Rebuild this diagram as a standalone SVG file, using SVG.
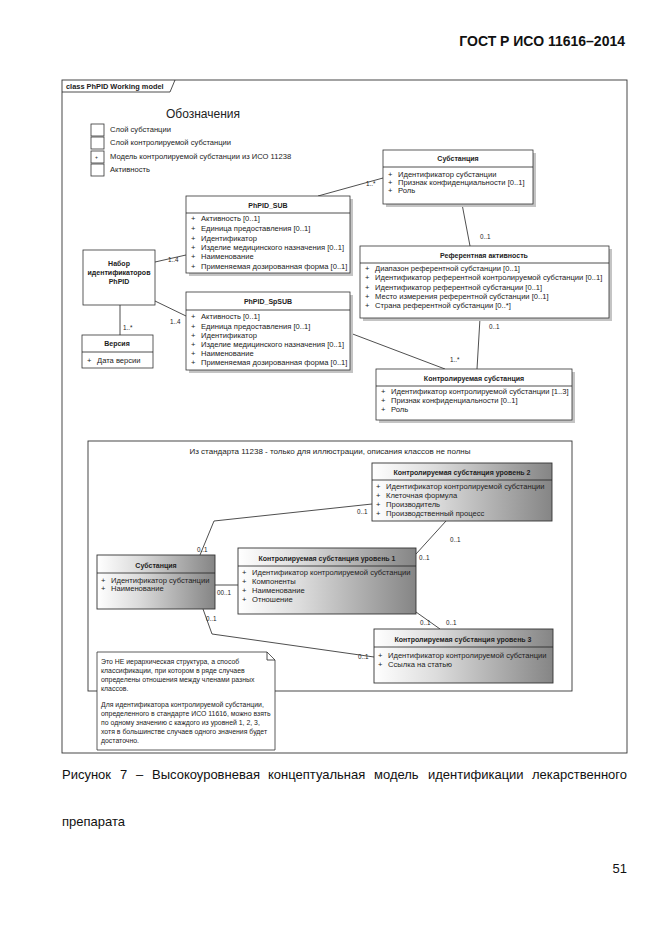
<svg xmlns="http://www.w3.org/2000/svg" width="661" height="935" viewBox="0 0 661 935">
<defs>
<style>
.t{font-family:"Liberation Sans",Arial,sans-serif;font-size:7.6px;fill:#222}
.s{font-size:6.3px}
.n{font-size:6.9px}
.b{font-weight:bold;font-size:7px}
.m{text-anchor:middle}
.box{fill:#fff;stroke:#333;stroke-width:0.8}
.gbox{fill:url(#gr);stroke:#333;stroke-width:0.9}
.sh{fill:#c4c4c4}
.ln{stroke:#222;stroke-width:0.8;fill:none}
.cap{font-family:"Liberation Sans",Arial,sans-serif;font-size:13px;fill:#111}
</style>
<linearGradient id="gr" x1="0" y1="0" x2="1" y2="0">
<stop offset="0" stop-color="#ffffff"/>
<stop offset="0.35" stop-color="#dcdcdc"/>
<stop offset="1" stop-color="#858585"/>
</linearGradient>
</defs>
<rect width="661" height="935" fill="#fff"/>
<text x="625" y="46" text-anchor="end" style="font-family:'Liberation Sans',Arial,sans-serif;font-size:14px;font-weight:bold;fill:#111">ГОСТ Р ИСО 11616–2014</text>

<g id="frame">
<rect x="62" y="80" width="565" height="673" fill="none" stroke="#333" stroke-width="0.9"/>
<path d="M62 92 H170 L175 80" class="ln"/>
<text x="66" y="89" class="t b" style="font-size:7.4px">class PhPID Working model</text>
</g>

<g id="legend">
<text x="203" y="118" class="t m" style="font-size:12px">Обозначения</text>
<rect x="91" y="124" width="13" height="12" class="box"/>
<text x="110" y="132" class="t">Слой субстанции</text>
<rect x="91" y="137" width="13" height="12" class="box"/>
<text x="110" y="145" class="t">Слой контролируемой субстанции</text>
<rect x="91" y="151" width="13" height="12" class="box"/>
<text x="95" y="159" class="t" style="font-size:5px">+</text>
<text x="110" y="159" class="t">Модель контролируемой субстанции из ИСО 11238</text>
<rect x="91" y="164" width="13" height="12" class="box"/>
<text x="110" y="172" class="t">Активность</text>
</g>

<g id="connectors">
<path d="M318 196 L383 178" class="ln"/>
<text x="366" y="186" class="t s">1..*</text>
<path d="M462 204 L470 246" class="ln"/>
<text x="480" y="239" class="t s">0..1</text>
<path d="M155 262 L186 255" class="ln"/>
<text x="168" y="262" class="t s">1..4</text>
<path d="M155 301 L186 316" class="ln"/>
<text x="170" y="324" class="t s">1..4</text>
<path d="M120 305 V335" class="ln"/>
<text x="123" y="330" class="t s">1..*</text>
<path d="M350 333 L445 369" class="ln"/>
<text x="450" y="362" class="t s">1..*</text>
<path d="M480 318 L477 369" class="ln"/>
<text x="489" y="329" class="t s">0..1</text>

<path d="M200 555 L214 521 L372 504" class="ln"/>
<text x="197" y="552" class="t s">0..1</text>
<text x="357" y="514" class="t s">0..1</text>
<path d="M215 585 H238" class="ln"/>
<text x="217" y="595" class="t s">00..1</text>
<path d="M416 554 L446 521" class="ln"/>
<text x="419" y="560" class="t s">0..1</text>
<text x="450" y="542" class="t s">0..1</text>
<path d="M416 612 L440 629" class="ln"/>
<text x="420" y="625" class="t s">0..1</text>
<text x="446" y="625" class="t s">0..1</text>
<path d="M203 609 L212 634 L374 657" class="ln"/>
<text x="206" y="621" class="t s">0..1</text>
<text x="358" y="659" class="t s">0..1</text>
</g>

<g id="substance">
<rect x="386" y="153" width="150" height="54" class="sh"/>
<rect x="383" y="150" width="150" height="54" class="box"/>
<line x1="383" y1="167" x2="533" y2="167" class="ln"/>
<text x="458" y="161" class="t b m">Субстанция</text>
<text x="388" y="177" class="t">+</text><text x="398" y="177" class="t">Идентификатор субстанции</text>
<text x="388" y="185" class="t">+</text><text x="398" y="185" class="t">Признак конфиденциальности [0..1]</text>
<text x="388" y="193" class="t">+</text><text x="398" y="193" class="t">Роль</text>
</g>

<g id="phpid_sub">
<rect x="189" y="199" width="164" height="77" class="sh"/>
<rect x="186" y="196" width="164" height="77" class="box"/>
<line x1="186" y1="213" x2="350" y2="213" class="ln"/>
<text x="268" y="208" class="t b m">PhPID_SUB</text>
<text x="191" y="221" class="t">+</text><text x="201" y="221" class="t">Активность [0..1]</text>
<text x="191" y="231" class="t">+</text><text x="201" y="231" class="t">Единица предоставления [0..1]</text>
<text x="191" y="241" class="t">+</text><text x="201" y="241" class="t">Идентификатор</text>
<text x="191" y="250" class="t">+</text><text x="201" y="250" class="t">Изделие медицинского назначения [0..1]</text>
<text x="191" y="259" class="t">+</text><text x="201" y="259" class="t">Наименование</text>
<text x="191" y="269" class="t">+</text><text x="201" y="269" class="t">Применяемая дозированная форма [0..1]</text>
</g>

<g id="phpid_set">
<rect x="83" y="250" width="72" height="55" class="box"/>
<text x="119" y="266" class="t b m">Набор</text>
<text x="119" y="275" class="t b m">идентификаторов</text>
<text x="119" y="284" class="t b m">PhPID</text>
</g>

<g id="version">
<rect x="82" y="335" width="71" height="33" class="box"/>
<line x1="82" y1="352" x2="153" y2="352" class="ln"/>
<text x="117" y="346" class="t b m">Версия</text>
<text x="87" y="363" class="t">+</text><text x="97" y="363" class="t">Дата версии</text>
</g>

<g id="phpid_spsub">
<rect x="189" y="295" width="164" height="78" class="sh"/>
<rect x="186" y="292" width="164" height="78" class="box"/>
<line x1="186" y1="310" x2="350" y2="310" class="ln"/>
<text x="268" y="304" class="t b m">PhPID_SpSUB</text>
<text x="191" y="319" class="t">+</text><text x="201" y="319" class="t">Активность [0..1]</text>
<text x="191" y="329" class="t">+</text><text x="201" y="329" class="t">Единица предоставления [0..1]</text>
<text x="191" y="338" class="t">+</text><text x="201" y="338" class="t">Идентификатор</text>
<text x="191" y="347" class="t">+</text><text x="201" y="347" class="t">Изделие медицинского назначения [0..1]</text>
<text x="191" y="356" class="t">+</text><text x="201" y="356" class="t">Наименование</text>
<text x="191" y="365" class="t">+</text><text x="201" y="365" class="t">Применяемая дозированная форма [0..1]</text>
</g>

<g id="ref_activity">
<rect x="363" y="249" width="249" height="72" class="sh"/>
<rect x="360" y="246" width="249" height="72" class="box"/>
<line x1="360" y1="263" x2="609" y2="263" class="ln"/>
<text x="484" y="258" class="t b m">Референтная активность</text>
<text x="365" y="271" class="t">+</text><text x="375" y="271" class="t">Диапазон референтной субстанции [0..1]</text>
<text x="365" y="280" class="t">+</text><text x="375" y="280" class="t">Идентификатор референтной контролируемой субстанции [0..1]</text>
<text x="365" y="290" class="t">+</text><text x="375" y="290" class="t">Идентификатор референтной субстанции [0..1]</text>
<text x="365" y="299" class="t">+</text><text x="375" y="299" class="t">Место измерения референтной субстанции [0..1]</text>
<text x="365" y="308" class="t">+</text><text x="375" y="308" class="t">Страна референтной субстанции [0..*]</text>
</g>

<g id="controlled_substance">
<rect x="379" y="372" width="196" height="51" class="sh"/>
<rect x="376" y="369" width="196" height="51" class="box"/>
<line x1="376" y1="386" x2="572" y2="386" class="ln"/>
<text x="474" y="381" class="t b m">Контролируемая субстанция</text>
<text x="381" y="394" class="t">+</text><text x="391" y="394" class="t">Идентификатор контролируемой субстанции [1..3]</text>
<text x="381" y="403" class="t">+</text><text x="391" y="403" class="t">Признак конфиденциальности [0..1]</text>
<text x="381" y="412" class="t">+</text><text x="391" y="412" class="t">Роль</text>
</g>

<g id="iso_frame">
<rect x="88" y="441" width="484" height="250" fill="none" stroke="#333" stroke-width="0.9"/>
<text x="330" y="454" class="t m" style="font-size:8px">Из стандарта 11238 - только для иллюстрации, описания классов не полны</text>
</g>

<g id="level2">
<rect x="372" y="463" width="180" height="58" class="gbox"/>
<line x1="372" y1="480" x2="552" y2="480" class="ln"/>
<text x="462" y="475" class="t b m">Контролируемая субстанция уровень 2</text>
<text x="376" y="489" class="t">+</text><text x="386" y="489" class="t">Идентификатор контролируемой субстанции</text>
<text x="376" y="498" class="t">+</text><text x="386" y="498" class="t">Клеточная формула</text>
<text x="376" y="507" class="t">+</text><text x="386" y="507" class="t">Производитель</text>
<text x="376" y="516" class="t">+</text><text x="386" y="516" class="t">Производственный процесс</text>
</g>

<g id="substance_iso">
<rect x="97" y="555" width="118" height="54" class="gbox"/>
<line x1="97" y1="573" x2="215" y2="573" class="ln"/>
<text x="156" y="568" class="t b m">Субстанция</text>
<text x="101" y="583" class="t">+</text><text x="111" y="583" class="t">Идентификатор субстанции</text>
<text x="101" y="591" class="t">+</text><text x="111" y="591" class="t">Наименование</text>
</g>

<g id="level1">
<rect x="238" y="548" width="178" height="66" class="gbox"/>
<line x1="238" y1="566" x2="416" y2="566" class="ln"/>
<text x="327" y="561" class="t b m">Контролируемая субстанция уровень 1</text>
<text x="242" y="575" class="t">+</text><text x="252" y="575" class="t">Идентификатор контролируемой субстанции</text>
<text x="242" y="584" class="t">+</text><text x="252" y="584" class="t">Компоненты</text>
<text x="242" y="593" class="t">+</text><text x="252" y="593" class="t">Наименование</text>
<text x="242" y="602" class="t">+</text><text x="252" y="602" class="t">Отношение</text>
</g>

<g id="level3">
<rect x="374" y="629" width="179" height="54" class="gbox"/>
<line x1="374" y1="647" x2="553" y2="647" class="ln"/>
<text x="463" y="642" class="t b m">Контролируемая субстанция уровень 3</text>
<text x="378" y="658" class="t">+</text><text x="388" y="658" class="t">Идентификатор контролируемой субстанции</text>
<text x="378" y="667" class="t">+</text><text x="388" y="667" class="t">Ссылка на статью</text>
</g>

<g id="note">
<path d="M97 652 H267 L275 660 V750 H97 Z" fill="#fff" stroke="#333" stroke-width="0.8"/>
<path d="M267 652 V660 H275" class="ln"/>
<text x="101" y="664" class="t n">Это НЕ иерархическая структура, а способ</text>
<text x="101" y="673" class="t n">классификации, при котором в ряде случаев</text>
<text x="101" y="682" class="t n">определены отношения между членами разных</text>
<text x="101" y="691" class="t n">классов.</text>
<text x="101" y="707" class="t n">Для идентификатора контролируемой субстанции,</text>
<text x="101" y="716" class="t n">определенного в стандарте ИСО 11616, можно взять</text>
<text x="101" y="725" class="t n">по одному значению с каждого из уровней   1, 2, 3,</text>
<text x="101" y="734" class="t n">хотя в большинстве случаев одного значения будет</text>
<text x="101" y="743" class="t n">достаточно.</text>
</g>

<g id="caption">
<text x="62" y="779" class="cap">Рисунок</text>
<text x="120" y="779" class="cap">7</text>
<text x="136" y="779" class="cap">–</text>
<text x="152" y="779" class="cap">Высокоуровневая</text>
<text x="268" y="779" class="cap">концептуальная</text>
<text x="374" y="779" class="cap">модель</text>
<text x="428" y="779" class="cap">идентификации</text>
<text x="627" y="779" class="cap" text-anchor="end">лекарственного</text>
<text x="62" y="826" class="cap">препарата</text>
<text x="627" y="873" class="cap" text-anchor="end">51</text>
</g>
</svg>
